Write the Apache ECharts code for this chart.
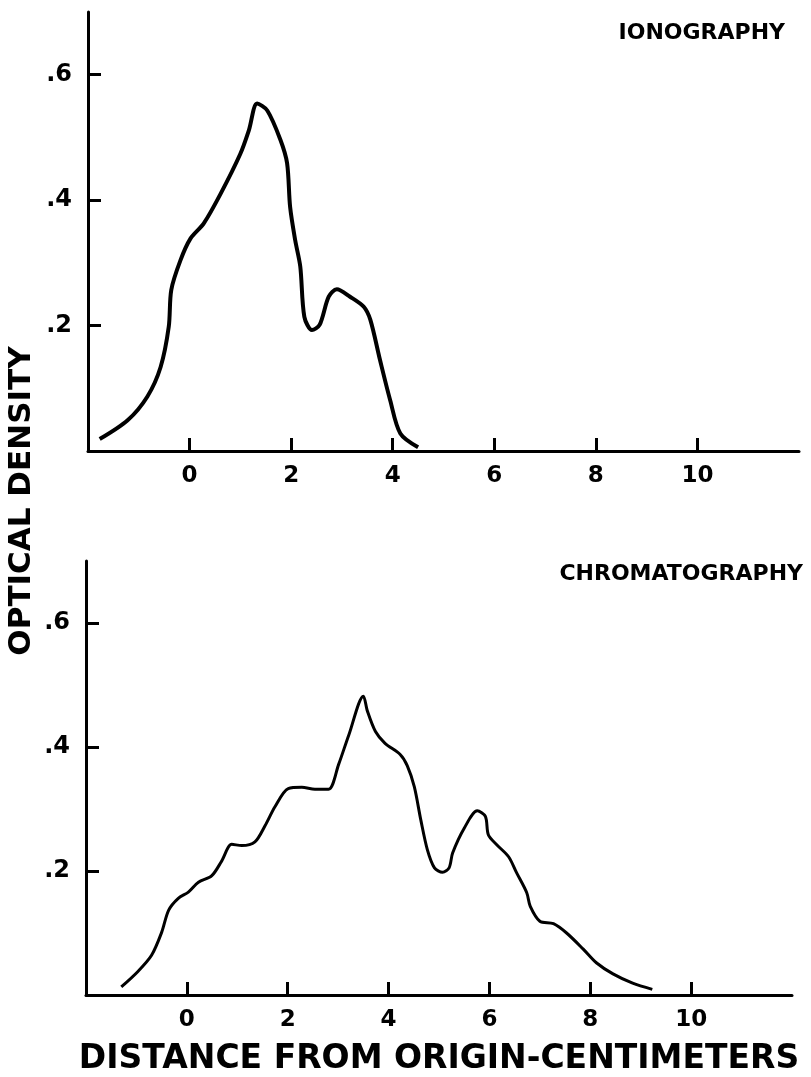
<!DOCTYPE html>
<html>
<head>
<meta charset="utf-8">
<script src="https://cdn.jsdelivr.net/npm/echarts@6/dist/echarts.min.js"></script>
<style>
  html, body { margin: 0; padding: 0; background: #fff; }
  #main { width: 811px; height: 1077px; }
</style>
</head>
<body>
<div id="main"></div>
<script>
// ionography trace (distance cm, optical density)
const ionoX = [-1.77, -1.22, -0.83, -0.57, -0.41, -0.36, -0.18, 0.02, 0.28, 0.61, 1.0, 1.17, 1.33, 1.53, 1.79, 1.92, 1.98, 2.08, 2.18, 2.26, 2.41, 2.56, 2.74, 2.9, 3.16, 3.43, 3.56, 3.75, 3.95, 4.15, 4.5];
const ionoY = [0.019, 0.049, 0.087, 0.134, 0.198, 0.257, 0.304, 0.339, 0.363, 0.41, 0.474, 0.512, 0.554, 0.543, 0.496, 0.459, 0.389, 0.336, 0.294, 0.214, 0.193, 0.201, 0.246, 0.258, 0.246, 0.23, 0.209, 0.145, 0.081, 0.028, 0.006];

// chromatography trace
const chromX = [-1.3, -0.97, -0.7, -0.5, -0.36, -0.17, 0.03, 0.23, 0.49, 0.69, 0.89, 1.09, 1.35, 1.55, 1.75, 2.01, 2.28, 2.54, 2.81, 3.01, 3.21, 3.5, 3.58, 3.74, 3.93, 4.23, 4.37, 4.51, 4.64, 4.77, 4.91, 5.07, 5.2, 5.27, 5.5, 5.76, 5.92, 5.98, 6.15, 6.38, 6.54, 6.74, 6.81, 7.0, 7.27, 7.53, 7.86, 8.12, 8.45, 8.84, 9.23];
const chromY = [0.013, 0.038, 0.064, 0.101, 0.137, 0.156, 0.166, 0.182, 0.192, 0.216, 0.243, 0.241, 0.247, 0.273, 0.304, 0.333, 0.335, 0.332, 0.332, 0.372, 0.419, 0.482, 0.458, 0.425, 0.406, 0.388, 0.37, 0.336, 0.282, 0.234, 0.205, 0.198, 0.205, 0.229, 0.269, 0.297, 0.288, 0.258, 0.242, 0.223, 0.197, 0.165, 0.143, 0.119, 0.115, 0.1, 0.074, 0.052, 0.034, 0.019, 0.009];

const xTicks = [0, 2, 4, 6, 8, 10];
const yTicks = [0.2, 0.4, 0.6];
const yTickLabels = ['.2', '.4', '.6'];

window.onload = function () {
  let chart = echarts.init(document.getElementById('main'));
  const font = 'DejaVu Sans';

  function pairs(xs, ys) {
    return xs.map(function (x, i) { return [x, ys[i]]; });
  }

  function xAxisOf(gridIndex, extra) {
    return Object.assign({
      type: 'value',
      gridIndex: gridIndex,
      min: -2,
      max: 12,
      interval: 2,
      axisLine: { show: true, onZero: false, lineStyle: { color: '#000', width: 3 } },
      axisTick: { show: true, inside: true, length: 13, customValues: xTicks, lineStyle: { color: '#000', width: 3 } },
      axisLabel: {
        customValues: xTicks, margin: 14,
        color: '#000', fontFamily: font, fontWeight: 'bold', fontSize: 23
      },
      splitLine: { show: false }
    }, extra || {});
  }

  function yAxisOf(gridIndex) {
    return {
      type: 'value',
      gridIndex: gridIndex,
      min: 0,
      max: 0.7,
      axisLine: { show: true, onZero: false, lineStyle: { color: '#000', width: 3 } },
      axisTick: { show: true, inside: true, length: 13, customValues: yTicks, lineStyle: { color: '#000', width: 3 } },
      axisLabel: {
        customValues: yTicks, margin: 16,
        color: '#000', fontFamily: font, fontWeight: 'bold', fontSize: 24,
        formatter: function (v) {
          let i = yTicks.findIndex(function (t) { return Math.abs(t - v) < 1e-6; });
          return i >= 0 ? yTickLabels[i] : '';
        }
      },
      splitLine: { show: false }
    };
  }

  let option = {
    backgroundColor: '#fff',
    animation: false,
    title: [
      {
        text: 'IONOGRAPHY', right: 21, top: 17,
        textStyle: { color: '#000', fontFamily: font, fontWeight: 900, fontSize: 22 }
      },
      {
        text: 'CHROMATOGRAPHY', right: 3, top: 558,
        textStyle: { color: '#000', fontFamily: font, fontWeight: 900, fontSize: 22 }
      }
    ],
    graphic: [
      {
        type: 'text',
        x: 22, y: 501,
        rotation: Math.PI / 2,
        style: {
          text: 'OPTICAL DENSITY',
          font: 'bold 31px "DejaVu Sans"',
          fill: '#000',
          align: 'center',
          verticalAlign: 'middle'
        }
      }
    ],
    grid: [
      { left: 88, right: 12, top: 12, bottom: 626 },
      { left: 86, right: 19, top: 561, bottom: 79 }
    ],
    xAxis: [
      xAxisOf(0),
      xAxisOf(1, {
        name: 'DISTANCE FROM ORIGIN-CENTIMETERS',
        nameLocation: 'middle',
        nameGap: 48,
        nameTextStyle: { color: '#000', fontFamily: font, fontWeight: 'bold', fontSize: 33 }
      })
    ],
    yAxis: [yAxisOf(0), yAxisOf(1)],
    series: [
      {
        name: 'Ionography',
        type: 'line',
        xAxisIndex: 0, yAxisIndex: 0,
        smooth: 0.3,
        showSymbol: false,
        lineStyle: { color: '#000', width: 4 },
        data: pairs(ionoX, ionoY)
      },
      {
        name: 'Chromatography',
        type: 'line',
        xAxisIndex: 1, yAxisIndex: 1,
        smooth: 0.3,
        showSymbol: false,
        lineStyle: { color: '#000', width: 3 },
        data: pairs(chromX, chromY)
      }
    ]
  };

  chart.setOption(option);
};
</script>
</body>
</html>
